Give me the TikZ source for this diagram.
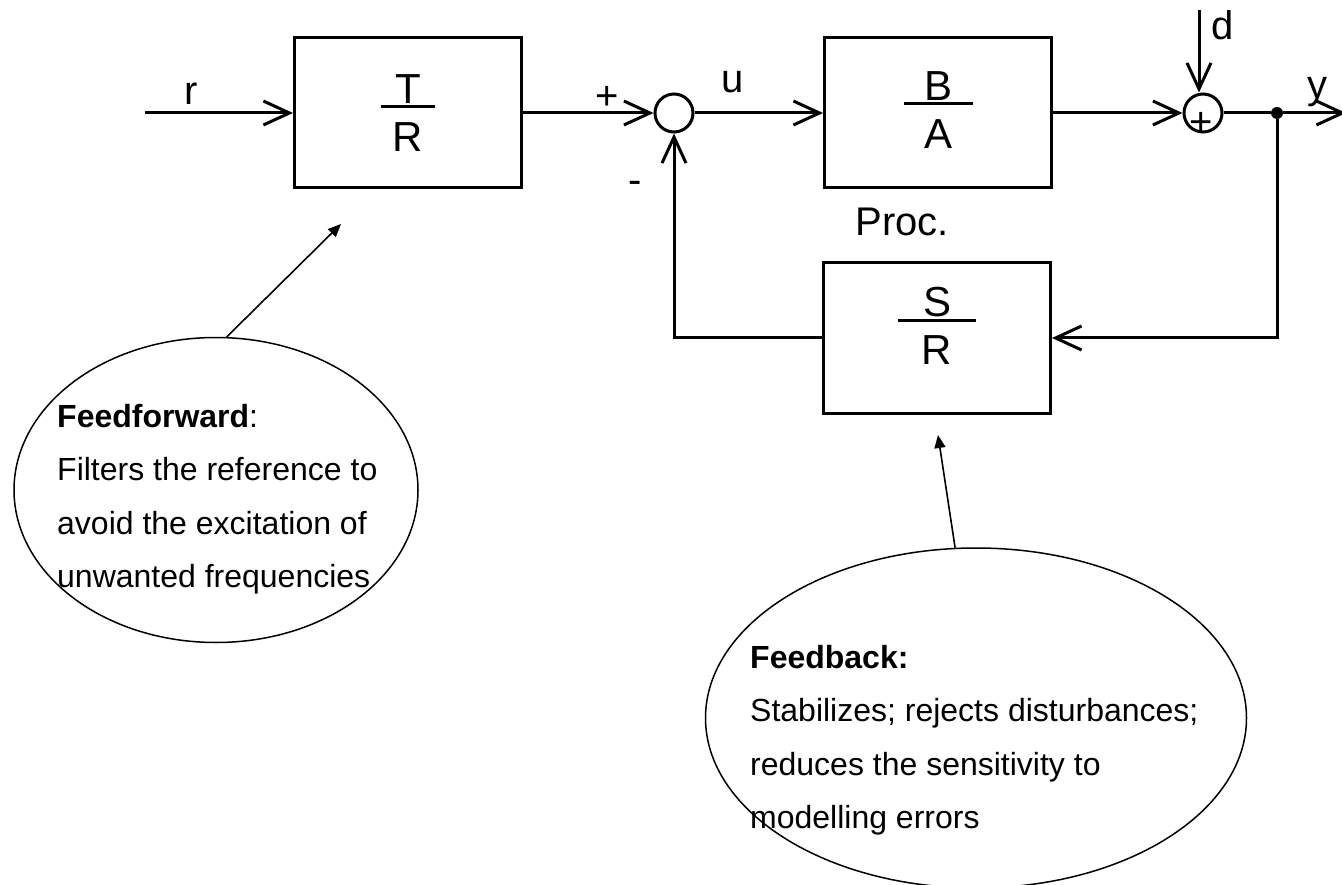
\documentclass[tikz,border=0pt]{standalone}
\usepackage{fontspec}
\setmainfont{Liberation Sans}
\usetikzlibrary{arrows.meta,shapes.geometric}
% fraction dans un bloc : longueur du trait, numerateur, denominateur
\newcommand{\fracbloc}[3]{\vbox{\offinterlineskip\halign{\hfil##\hfil\cr #2\cr\noalign{\kern2pt}\rule{#1}{3pt}\cr\noalign{\kern14pt}#3\cr}}}
\tikzset{
  >={Straight Barb[length=26pt,width=24pt]},
  bloc/.style={draw, line width=3pt, minimum width=227pt, minimum height=150pt,
    inner sep=0pt, font=\fontsize{42}{50}\selectfont},
  somme/.style={draw, circle, line width=3pt, minimum size=38pt, inner sep=0pt},
  noeud/.style={circle, fill, minimum size=12pt, inner sep=0pt},
  fleche/.style={->, line width=3pt},
  etiq/.style={inner sep=0pt, font=\fontsize{40}{48}\selectfont},
  bulle/.style={draw, ellipse, line width=1.5pt, inner sep=0pt},
  note/.style={align=left, anchor=north west, inner sep=0pt, font=\fontsize{32}{53.5}\selectfont},
  renvoi/.style={-{Triangle[length=13pt,width=11pt]}, line width=1.6pt},
}
\begin{document}
\begin{tikzpicture}[x=1pt,y=-1pt]
    \useasboundingbox (0,0) rectangle (1342,885);
    % Blocs
    \node[bloc] (tr) at (408,113) {\fracbloc{54pt}{T}{R}};
    \node[bloc, text depth=6pt] (ba) at (938,113) {\fracbloc{69pt}{B}{A}};
    \node[bloc, text depth=24pt] (sr) at (937,338) {\fracbloc{78pt}{S}{R}};
    \node[somme] (s1) at (674,113) {};
    \node[somme] (s2) at (1203,113) {};
    \node[noeud] (br) at (1277,113) {};
    \coordinate (rIn) at (145,113);
    \coordinate (dIn) at (1199,10);
    \coordinate (yOut) at (1346,113);
    % Etiquettes
    \node[etiq] (lr) at (191,94) {r};
    \node[etiq] (lplus) at (607,98) {+};
    \node[etiq] (lmoins) at (635,187) {-};
    \node[etiq] (lu) at (733,82) {u};
    \node[etiq] (lproc) at (902,222) {Proc.};
    \node[etiq] (ld) at (1223,25) {d};
    \node[etiq] (ly) at (1317,92) {y};
    \node[etiq] (lplusd) at (1201,124) {+};
    % Fleches
    \draw[fleche] (rIn) -- (tr);
    \draw[fleche] (tr) -- (s1);
    \draw[fleche] (s1) -- (ba);
    \draw[fleche] (ba) -- (s2);
    \draw[fleche] (dIn) -- (dIn |- s2.north);
    \draw[line width=3pt] (s2) -- (br);
    \draw[fleche] (br) -- (yOut);
    \draw[fleche] (br) |- (sr);
    \draw[fleche] (sr) -| (s1);
    % Commentaires
    \node[bulle, minimum width=404pt, minimum height=305pt] (ff) at (216,490) {};
    \node[note] (fftexte) at (57,404) {\textbf{Feedforward}:\\ Filters the reference to\\ avoid the excitation of\\ unwanted frequencies};
    \node[bulle, minimum width=541pt, minimum height=340pt] (fb) at (976,718) {};
    \node[note] (fbtexte) at (750,645) {\textbf{Feedback:}\\ Stabilizes; rejects disturbances;\\ reduces the sensitivity to\\ modelling errors};
    \coordinate (ffpointe) at (341,224);
    \coordinate (fbpointe) at (938,435);
    \draw[renvoi] (ff.86) -- (ffpointe);
    \draw[renvoi] (fb.97) -- (fbpointe);
\end{tikzpicture}
\end{document}
